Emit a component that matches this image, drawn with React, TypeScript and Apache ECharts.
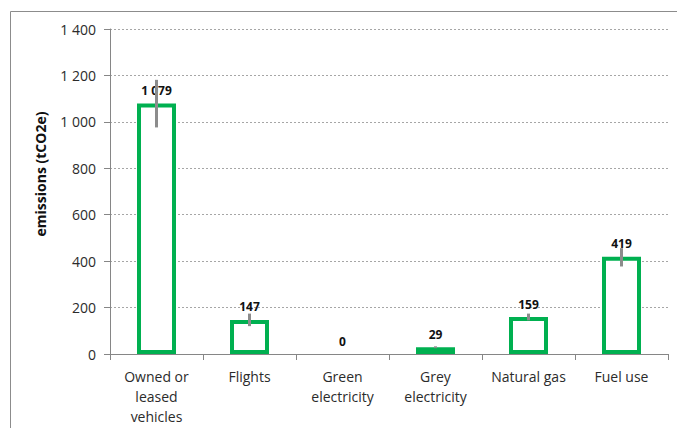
import React, { useEffect, useRef } from "react";
import * as echarts from "echarts";

const categories = [
  "Owned or\nleased\nvehicles",
  "Flights",
  "Green\nelectricity",
  "Grey\nelectricity",
  "Natural gas",
  "Fuel use",
];
const emissions = [1079, 147, 0, 29, 159, 419];
const errorLow = [976, 120, 0, 25, 145, 377];
const errorHigh = [1181, 174, 0, 33, 174, 456];

const fmt = (v: number) => String(Math.round(v)).replace(/\B(?=(\d{3})+(?!\d))/g, " ");

export default function App() {
  const ref = useRef<HTMLDivElement>(null);
  useEffect(() => {
    if (!ref.current) return;
    const chart = echarts.init(ref.current, null, { renderer: "svg" });
    const font = "'Open Sans', sans-serif";
    chart.setOption({
      animation: false,
      textStyle: { fontFamily: font },
      grid: { left: 110, top: 29, right: 9, bottom: 74 },
      graphic: [
        {
          type: "rect",
          shape: { x: 10.5, y: 11.5, width: 720, height: 500 },
          style: { fill: "none", stroke: "#8c8c8c", lineWidth: 1 },
          silent: true,
          z: -10,
        },
        {
          type: "text",
          x: 40,
          y: 174,
          rotation: Math.PI / 2,
          style: {
            text: "emissions (tCO2e)",
            fontFamily: font,
            fontSize: 14,
            fontWeight: "bold",
            fill: "#111111",
            align: "center",
            verticalAlign: "middle",
          },
        },
      ],
      xAxis: {
        type: "category",
        data: categories,
        axisLine: { lineStyle: { color: "#868686", width: 1 } },
        axisTick: { show: true, length: 6, lineStyle: { color: "#868686" } },
        axisLabel: {
          color: "#2b2b2b",
          fontFamily: font,
          fontSize: 14,
          lineHeight: 20,
          margin: 12,
          interval: 0,
        },
      },
      yAxis: {
        type: "value",
        min: 0,
        max: 1400,
        interval: 200,
        axisLine: { show: true, lineStyle: { color: "#868686", width: 1 } },
        axisTick: { show: true, length: 6, lineStyle: { color: "#868686" } },
        axisLabel: {
          color: "#2b2b2b",
          fontFamily: font,
          fontSize: 14,
          margin: 14,
          formatter: (v: number) => fmt(v),
        },
        splitLine: { lineStyle: { color: "#a6a6a6", type: [2, 2], width: 1 } },
      },
      series: [
        {
          type: "bar",
          data: emissions.map((v) =>
            v === 0
              ? { value: v, itemStyle: { borderWidth: 0, color: "rgba(0,0,0,0)" } }
              : { value: v }
          ),
          barWidth: 39,
          itemStyle: { color: "#ffffff", borderColor: "#00B050", borderWidth: 4 },
          label: {
            show: true,
            position: "top",
            distance: 7,
            color: "#111111",
            fontFamily: font,
            fontSize: 12,
            fontWeight: "bold",
            formatter: (p: any) => fmt(p.value),
          },
          z: 2,
        },
        {
          type: "custom",
          data: errorLow.map((lo, i) => [i, lo, errorHigh[i]]),
          renderItem: (params: any, api: any) => {
            const i = api.value(0);
            const p1 = api.coord([i, api.value(1)]);
            const p2 = api.coord([i, api.value(2)]);
            return {
              type: "line",
              shape: { x1: p1[0], y1: p1[1], x2: p2[0], y2: p2[1] },
              style: { stroke: "#8c8c8c", lineWidth: 3 },
            };
          },
          z: 5,
        },
      ],
    });
    return () => chart.dispose();
  }, []);
  return (
    <div
      ref={ref}
      style={{ position: "fixed", left: 0, top: 0, width: 677, height: 428, background: "#fff" }}
    />
  );
}
